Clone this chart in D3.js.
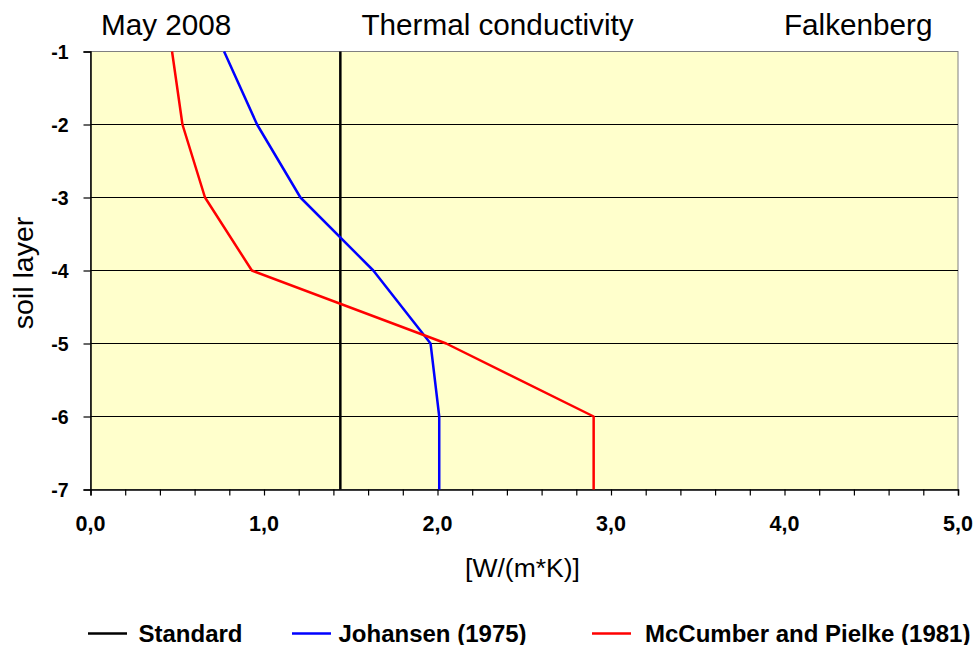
<!DOCTYPE html>
<html><head><meta charset="utf-8">
<script src="https://cdn.jsdelivr.net/npm/d3@7"></script>
<style>body{margin:0;background:#fff}svg{display:block}text{font-family:"Liberation Sans",Arial,sans-serif}</style>
</head><body><div id="chart"></div>
<script>
const layers = [-1, -2, -3, -4, -5, -6, -7];
const standard = [1.44, 1.44, 1.44, 1.44, 1.44, 1.44, 1.44];
const johansen = [0.77, 0.96, 1.21, 1.63, 1.96, 2.01, 2.01];
const mccumber = [0.47, 0.53, 0.66, 0.93, 2.05, 2.90, 2.90];
const xTicks = [0, 1, 2, 3, 4, 5];
const xTickLabels = ["0,0", "1,0", "2,0", "3,0", "4,0", "5,0"];
const yTicks = [-1, -2, -3, -4, -5, -6, -7];
const seriesNames = ["Standard", "Johansen (1975)", "McCumber and Pielke (1981)"];
const seriesColors = ["#000000", "#0000ff", "#ff0000"];

const W = 974, H = 645;
const svg = d3.select("#chart").append("svg").attr("width", W).attr("height", H);
const x = d3.scaleLinear().domain([0, 5]).range([90.5, 958]);
const y = d3.scaleLinear().domain([-7, -1]).range([489.5, 51.5]);

// plot background
svg.append("rect").attr("x", x(0)).attr("y", y(-1)).attr("width", x(5) - x(0)).attr("height", y(-7) - y(-1))
  .attr("fill", "#ffffcc").attr("stroke", "#808080").attr("stroke-width", 1);

// gridlines
svg.append("g").selectAll("line").data(yTicks.filter(d => d > -7 && d < -1)).join("line")
  .attr("x1", x(0)).attr("x2", x(5)).attr("y1", d => y(d)).attr("y2", d => y(d))
  .attr("stroke", "#000").attr("stroke-width", 1);

// x axis
const xAxis = d3.axisBottom(x).tickValues(d3.range(0, 5.0001, 0.2)).tickSize(6).tickFormat("");
const gx = svg.append("g").attr("transform", `translate(0,${y(-7)})`).call(xAxis);
gx.select(".domain").attr("stroke", "#000").attr("stroke-width", 1.5);
gx.selectAll(".tick line").attr("stroke", "#000").attr("stroke-width", 1.2);
svg.append("g").selectAll("text").data(xTicks).join("text")
  .attr("x", d => x(d)).attr("y", 531).attr("text-anchor", "middle")
  .attr("font-size", 21.5).attr("font-weight", "bold").text((d, i) => xTickLabels[i]);

// y axis
const yAxis = d3.axisLeft(y).tickValues(yTicks).tickSize(7).tickFormat(d => d);
const gy = svg.append("g").attr("transform", `translate(${x(0)},0)`).call(yAxis);
gy.select(".domain").attr("stroke", "#000").attr("stroke-width", 1.5);
gy.selectAll(".tick line").attr("stroke", "#000").attr("stroke-width", 1.2);
gy.selectAll(".tick text").attr("x", -22).attr("dy", "0.36em")
  .attr("font-size", 19.5).attr("font-weight", "bold").attr("fill", "#000")
  .attr("font-family", '"Liberation Sans",Arial,sans-serif');

// series
const line = d3.line().x(d => x(d[0])).y(d => y(d[1]));
[standard, johansen, mccumber].forEach((vals, i) => {
  svg.append("path").datum(vals.map((v, j) => [v, layers[j]]))
    .attr("d", line).attr("fill", "none").attr("stroke", seriesColors[i])
    .attr("stroke-width", 2.5).attr("stroke-linejoin", "round");
});

// titles
svg.append("text").attr("x", 101).attr("y", 35).attr("font-size", 29.7).text("May 2008");
svg.append("text").attr("x", 497.5).attr("y", 35).attr("text-anchor", "middle").attr("font-size", 29.7).text("Thermal conductivity");
svg.append("text").attr("x", 932.5).attr("y", 35).attr("text-anchor", "end").attr("font-size", 29.7).text("Falkenberg");

// axis titles
svg.append("text").attr("x", 522.5).attr("y", 577).attr("text-anchor", "middle")
  .attr("font-size", 26.5).text("[W/(m*K)]");
svg.append("text").attr("transform", `translate(32.5,273) rotate(-90)`).attr("text-anchor", "middle")
  .attr("font-size", 28.5).text("soil layer");

// legend
const legLineX = [88, 292, 592];
const legTextX = [138.5, 338.5, 645];
const legG = svg.append("g");
seriesNames.forEach((name, i) => {
  legG.append("line").attr("x1", legLineX[i]).attr("x2", legLineX[i] + 39).attr("y1", 633.5).attr("y2", 633.5)
    .attr("stroke", seriesColors[i]).attr("stroke-width", 2.5);
  legG.append("text").attr("x", legTextX[i]).attr("y", 641.5).attr("font-size", 24)
    .attr("font-weight", "bold").text(name);
});
</script></body></html>
